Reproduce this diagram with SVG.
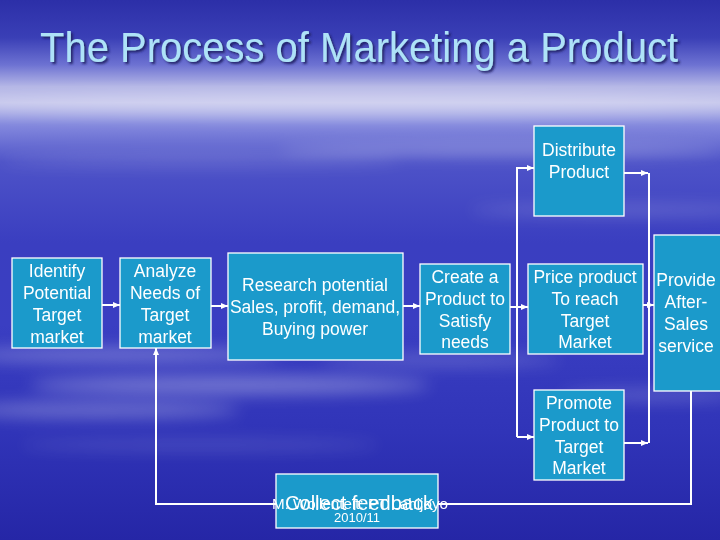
<svg xmlns="http://www.w3.org/2000/svg" width="720" height="540" viewBox="0 0 720 540">
<defs>
<linearGradient id="bg" x1="0" y1="0" x2="0" y2="1">
<stop offset="0" stop-color="#2c2fa8"/>
<stop offset="0.07" stop-color="#3a3fb6"/>
<stop offset="0.12" stop-color="#6d72d2"/>
<stop offset="0.16" stop-color="#b4b6e6"/>
<stop offset="0.19" stop-color="#bfc0ea"/>
<stop offset="0.23" stop-color="#858ade"/>
<stop offset="0.3" stop-color="#4e53c8"/>
<stop offset="0.45" stop-color="#3a3ec0"/>
<stop offset="0.6" stop-color="#3a3ec2"/>
<stop offset="0.8" stop-color="#3034b8"/>
<stop offset="1" stop-color="#2526a6"/>
</linearGradient>
<filter id="blur" x="-20%" y="-200%" width="140%" height="500%"><feGaussianBlur stdDeviation="8"/></filter>
<filter id="tshadow" filterUnits="userSpaceOnUse" x="0" y="0" width="720" height="100"><feDropShadow dx="2" dy="2" stdDeviation="0.8" flood-color="#1a1c60" flood-opacity="0.9"/></filter>
<marker id="ah" markerUnits="userSpaceOnUse" markerWidth="8" markerHeight="8" viewBox="0 0 8 8" refX="7" refY="4" orient="auto">
<path d="M0,1 L7,4 L0,7 z" fill="#ffffff"/>
</marker>
</defs>
<style>
.node rect{fill:#1b9acb;stroke:#ffffff;stroke-width:1.3}
.node text,.lbl{font-family:"Liberation Sans",Arial,sans-serif;font-size:17.5px;fill:#ffffff;text-anchor:middle}
.conn path{fill:none;stroke:#ffffff;stroke-width:2}
.title{font-family:"Liberation Sans",Arial,sans-serif;font-size:43px;text-anchor:middle}
</style>
<rect width="720" height="540" fill="url(#bg)"/>
<g fill="#ffffff" filter="url(#blur)">
<ellipse cx="360" cy="105" rx="420" ry="12" opacity="0.3"/>
<ellipse cx="500" cy="150" rx="220" ry="6" opacity="0.25"/>
<ellipse cx="200" cy="160" rx="200" ry="5" opacity="0.18"/>
<ellipse cx="620" cy="210" rx="150" ry="5" opacity="0.2"/>
<ellipse cx="120" cy="355" rx="160" ry="7" opacity="0.3"/>
<ellipse cx="230" cy="385" rx="200" ry="9" opacity="0.32"/>
<ellipse cx="100" cy="410" rx="140" ry="8" opacity="0.28"/>
<ellipse cx="440" cy="360" rx="120" ry="6" opacity="0.2"/>
<ellipse cx="650" cy="395" rx="90" ry="6" opacity="0.2"/>
<ellipse cx="200" cy="445" rx="180" ry="5" opacity="0.15"/>
</g>
<text class="title" x="359" y="62" fill="#aee2f8" filter="url(#tshadow)" textLength="638" lengthAdjust="spacingAndGlyphs">The Process of Marketing a Product</text>
<g class="conn" id="connectors">
<path d="M102,305 H120" marker-end="url(#ah)"/>
<path d="M211,306 H228" marker-end="url(#ah)"/>
<path d="M403,306 H420" marker-end="url(#ah)"/>
<path d="M510,307 H528" marker-end="url(#ah)"/>
<path d="M517,437 V168 H534" marker-end="url(#ah)"/>
<path d="M517,437 H534" marker-end="url(#ah)"/>
<path d="M624,173 H648" marker-end="url(#ah)"/>
<path d="M624,443 H648" marker-end="url(#ah)"/>
<path d="M649,173 V443"/>
<path d="M643,305 H654" marker-end="url(#ah)"/>
<path d="M691,391 V504 H156 V348" marker-end="url(#ah)"/>
</g>
<g class="node" id="identify"><rect x="12" y="258" width="90" height="90"/>
<text x="57" y="277">Identify</text><text x="57" y="299">Potential</text><text x="57" y="321">Target</text><text x="57" y="343">market</text></g>
<g class="node" id="analyze"><rect x="120" y="258" width="91" height="90"/>
<text x="165" y="277">Analyze</text><text x="165" y="299">Needs of</text><text x="165" y="321">Target</text><text x="165" y="343">market</text></g>
<g class="node" id="research"><rect x="228" y="253" width="175" height="107"/>
<text x="315" y="291">Research potential</text><text x="315" y="313">Sales, profit, demand,</text><text x="315" y="335">Buying power</text></g>
<g class="node" id="create"><rect x="420" y="264" width="90" height="90"/>
<text x="465" y="283">Create a</text><text x="465" y="305">Product to</text><text x="465" y="327">Satisfy</text><text x="465" y="348">needs</text></g>
<g class="node" id="price"><rect x="528" y="264" width="115" height="90"/>
<text x="585" y="283">Price product</text><text x="585" y="305">To reach</text><text x="585" y="327">Target</text><text x="585" y="348">Market</text></g>
<g class="node" id="distribute"><rect x="534" y="126" width="90" height="90"/>
<text x="579" y="156">Distribute</text><text x="579" y="178">Product</text></g>
<g class="node" id="promote"><rect x="534" y="390" width="90" height="90"/>
<text x="579" y="409">Promote</text><text x="579" y="431">Product to</text><text x="579" y="453">Target</text><text x="579" y="474">Market</text></g>
<g class="node" id="provide"><rect x="654" y="235" width="70" height="156"/>
<text x="686" y="286">Provide</text><text x="686" y="308">After-</text><text x="686" y="330">Sales</text><text x="686" y="352">service</text></g>
<g class="node" id="collect"><rect x="276" y="474" width="162" height="54"/>
<text x="359" y="510" style="font-size:20px">Collect feedback</text></g>
<text class="lbl" x="360" y="509" style="font-size:14px" textLength="176" lengthAdjust="spacingAndGlyphs">M. Wollenteit: PT Lahijoyo</text>
<text class="lbl" x="357" y="522" style="font-size:13px">2010/11</text>
</svg>
